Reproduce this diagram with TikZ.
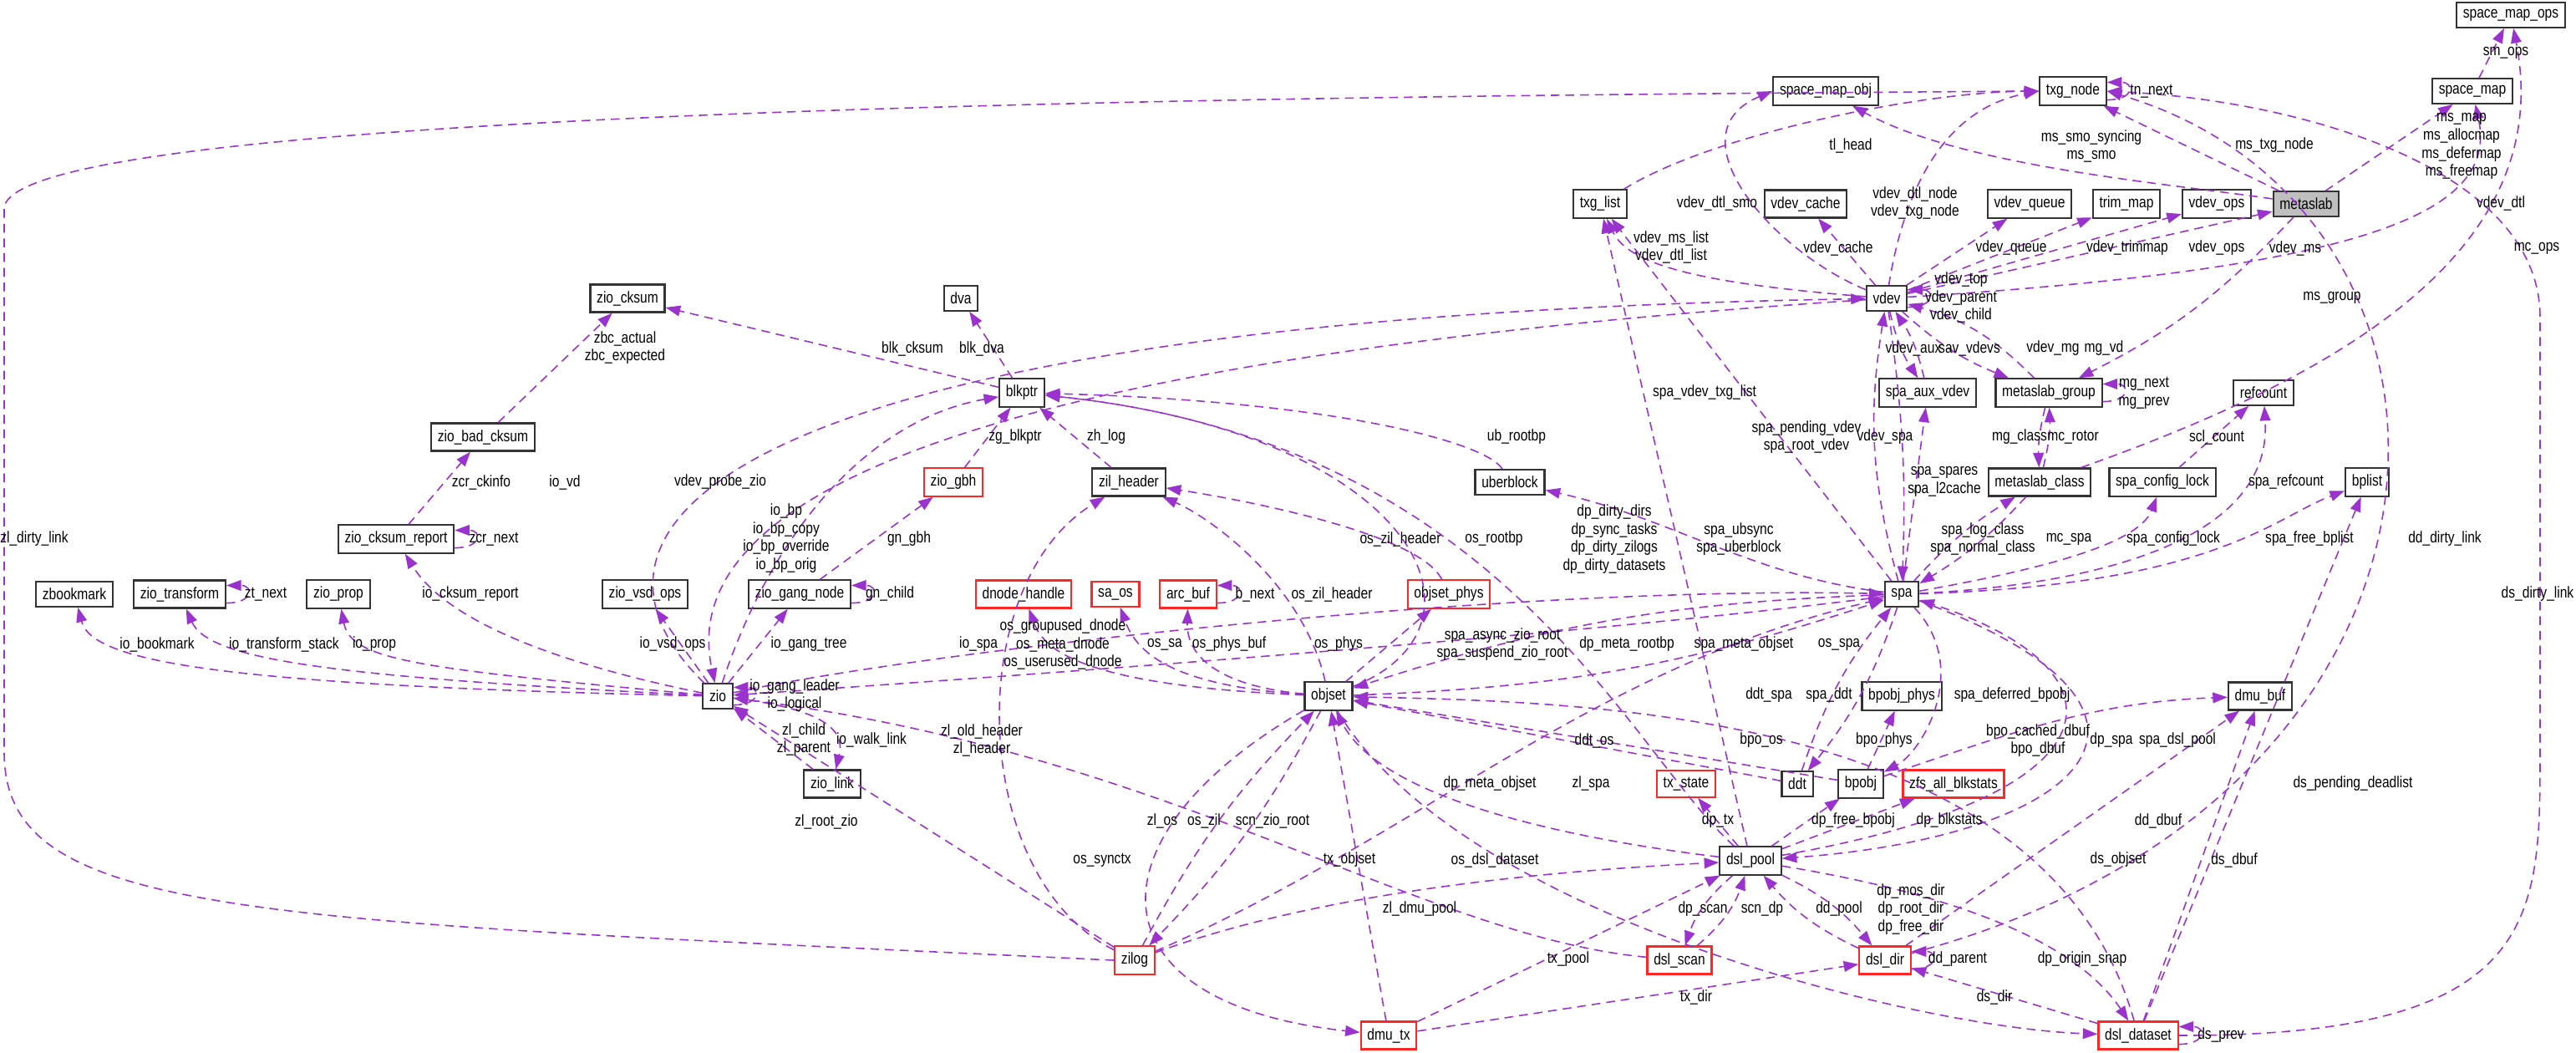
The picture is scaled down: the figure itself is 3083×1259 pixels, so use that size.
\documentclass[tikz,border=0pt]{standalone}
\usepackage{fontspec}
\setmainfont{Liberation Sans}[FakeStretch=0.82]
\usetikzlibrary{arrows.meta}
\definecolor{refcol}{HTML}{9A32CD}
\tikzset{
	cls/.style={draw=black!80, line width=0.6pt, fill=white, inner sep=2.2pt, minimum height=0.25cm, font=\fontsize{5.4}{6}\selectfont},
	redcls/.style={cls, draw=red!85},
	focus/.style={cls, fill=black!25},
	ref/.style={draw=refcol, dash pattern=on 3pt off 2pt, line width=0.45pt, -{Triangle[length=5pt,width=3.6pt,fill=refcol]}},
	lbl/.style={font=\fontsize{5.4}{6.2}\selectfont, align=center, inner sep=0pt},
}
\begin{document}
\begin{tikzpicture}[x=0.01cm, y=-0.01cm]
		\useasboundingbox (0,0) rectangle (3083,1259);

		\node[cls] (smops) at (3005, 18){space\_map\_ops};
		\node[cls] (smobj) at (2185, 109){space\_map\_obj};
		\node[cls] (txgnode) at (2481, 109){txg\_node};
		\node[cls] (sm) at (2959, 109){space\_map};
		\node[cls] (txglist) at (1915, 244){txg\_list};
		\node[cls] (vcache) at (2161, 244){vdev\_cache};
		\node[cls] (vqueue) at (2429, 244){vdev\_queue};
		\node[cls] (trim) at (2545, 244){trim\_map};
		\node[cls] (vops) at (2653, 244){vdev\_ops};
		\node[focus] (ms) at (2760, 244){metaslab};
		\node[cls] (vdev) at (2258, 357){vdev};
		\node[cls] (dva) at (1150, 357){dva};
		\node[cls] (cksum) at (751, 357){zio\_cksum};
		\node[cls] (blkptr) at (1223, 470){blkptr};
		\node[cls] (aux) at (2307, 470){spa\_aux\_vdev};
		\node[cls] (mg) at (2452, 470){metaslab\_group};
		\node[cls] (refc) at (2709, 470){refcount};
		\node[cls] (badck) at (578, 523){zio\_bad\_cksum};
		\node[redcls] (gbh) at (1141, 577){zio\_gbh};
		\node[cls] (zilh) at (1351, 577){zil\_header};
		\node[cls] (ub) at (1807, 577){uberblock};
		\node[cls] (mc) at (2441, 577){metaslab\_class};
		\node[cls] (scl) at (2588, 577){spa\_config\_lock};
		\node[cls] (bplist) at (2833, 577){bplist};
		\node[cls] (ckrep) at (474, 645){zio\_cksum\_report};
		\node[cls] (zb) at (89, 711){zbookmark};
		\node[cls] (ztr) at (215, 711){zio\_transform};
		\node[cls] (zprop) at (405, 711){zio\_prop};
		\node[cls] (vsd) at (772, 711){zio\_vsd\_ops};
		\node[cls] (gang) at (957, 711){zio\_gang\_node};
		\node[redcls] (dnh) at (1225, 711){dnode\_handle};
		\node[redcls] (saos) at (1335, 711){sa\_os};
		\node[redcls] (arc) at (1422, 711){arc\_buf};
		\node[redcls] (osphys) at (1734, 711){objset\_phys};
		\node[cls] (spa) at (2276, 711){spa};
		\node[cls] (zio) at (859, 833){zio};
		\node[cls] (objset) at (1590, 833){objset};
		\node[cls] (bpphys) at (2276, 833){bpobj\_phys};
		\node[cls] (dbuf) at (2705, 833){dmu\_buf};
		\node[cls] (zlink) at (996, 938){zio\_link};
		\node[redcls] (txst) at (2018, 938){tx\_state};
		\node[cls] (ddt) at (2151, 938){ddt};
		\node[cls] (bpobj) at (2227, 938){bpobj};
		\node[redcls] (blkst) at (2338, 938){zfs\_all\_blkstats};
		\node[cls] (dp) at (2095, 1030){dsl\_pool};
		\node[redcls] (zilog) at (1358, 1149){zilog};
		\node[redcls] (scan) at (2010, 1149){dsl\_scan};
		\node[redcls] (dd) at (2256, 1149){dsl\_dir};
		\node[redcls] (tx) at (1662, 1239){dmu\_tx};
		\node[redcls] (ds) at (2559, 1239){dsl\_dataset};

		\draw[ref] (sm) -- (smops);
		\draw[ref] (ms) -- (sm);
		\draw[ref] (mc) .. controls (2800,450) and (3060,300) .. (smops);
		\draw[ref] (vdev) .. controls (2850,320) and (2990,250) .. (sm);
		\draw[ref] (ms) .. controls (2600,220) and (2350,200) .. (smobj);
		\draw[ref] (vdev) .. controls (2120,300) and (2000,160) .. (smobj.west);
		\draw[ref] (ms) -- (txgnode);
		\draw[ref] ([yshift=-3pt]txgnode.east) to[out=0,in=0,looseness=4] ([yshift=3pt]txgnode.east);
		\draw[ref] (txglist) .. controls (2050,160) and (2300,110) .. (txgnode.west);
		\draw[ref] (vdev) .. controls (2280,220) and (2330,130) .. (txgnode.west);
		\draw[ref] (dd) .. controls (3000,950) and (3000,250) .. (txgnode.east);
		\draw[ref] (ds.east) .. controls (3040,1240) and (3040,1100) .. (3040,900) -- (3040,380) .. controls (3040,200) and (2750,120) .. (txgnode.east);
		\draw[ref] (zilog.west) .. controls (300,1100) and (5,1100) .. (5,900) -- (5,250) .. controls (5,130) and (1500,115) .. (txgnode.west);
		\draw[ref] (vdev) .. controls (2050,340) and (1950,320) .. (txglist);
		\draw[ref] (spa) -- (txglist);
		\draw[ref] (dp) -- (txglist);
		\draw[ref] (vdev) -- (vcache);
		\draw[ref] (vdev) -- (vqueue);
		\draw[ref] (vdev) -- (trim);
		\draw[ref] (vdev) -- (vops);
		\draw[ref] (vdev) -- (ms);
		\draw[ref] ([yshift=-3pt]vdev.east) to[out=0,in=0,looseness=4] ([yshift=3pt]vdev.east);
		\draw[ref] (mg) to[bend right=15] (vdev);
		\draw[ref] (vdev) to[bend right=10] (mg);
		\draw[ref] (ms) to[bend left=10] (mg);
		\draw[ref] ([yshift=-3pt]mg.east) to[out=0,in=0,looseness=4] ([yshift=3pt]mg.east);
		\draw[ref] (mc) to[bend right=8] (mg);
		\draw[ref] (mg) to[bend right=8] (mc);
		\draw[ref] (aux) to[bend right=10] (vdev);
		\draw[ref] (vdev) to[bend right=10] (aux);
		\draw[ref] (spa) to[bend left=12] (vdev);
		\draw[ref] (vdev) to[bend left=5] (spa);
		\draw[ref] (spa) -- (aux);
		\draw[ref] (spa) to[bend left=8] (mc);
		\draw[ref] (mc) to[bend left=8] (spa);
		\draw[ref] (scl) -- (refc);
		\draw[ref] (spa) .. controls (2500,700) and (2720,650) .. (refc);
		\draw[ref] (spa) .. controls (2450,680) and (2560,650) .. (scl);
		\draw[ref] (spa) .. controls (2650,700) and (2720,620) .. (bplist);
		\draw[ref] (ds) -- (bplist);
		\draw[ref] (spa) .. controls (2100,690) and (2000,620) .. (ub);
		\draw[ref] (ub) .. controls (1780,530) and (1600,480) .. (blkptr);
		\draw[ref] (objset) .. controls (1800,750) and (1700,520) .. (blkptr);
		\draw[ref] (dp) .. controls (1950,900) and (1800,530) .. (blkptr);
		\draw[ref] (zio) .. controls (930,620) and (1050,500) .. (blkptr);
		\draw[ref] (gbh) -- (blkptr);
		\draw[ref] (zilh) -- (blkptr);
		\draw[ref] (blkptr) -- (dva);
		\draw[ref] (blkptr) -- (cksum);
		\draw[ref] (badck) -- (cksum);
		\draw[ref] (ckrep) -- (badck);
		\draw[ref] ([yshift=-3pt]ckrep.east) to[out=0,in=0,looseness=4] ([yshift=3pt]ckrep.east);
		\draw[ref] (zio) .. controls (600,780) and (520,720) .. (ckrep);
		\draw[ref] (zio) .. controls (640,620) and (900,380) .. (vdev);
		\draw[ref] (vdev) .. controls (1300,420) and (800,560) .. (zio);
		\draw[ref] (zio) .. controls (250,820) and (110,790) .. (zb);
		\draw[ref] (zio) .. controls (400,810) and (250,790) .. (ztr);
		\draw[ref] ([yshift=-3pt]ztr.east) to[out=0,in=0,looseness=4] ([yshift=3pt]ztr.east);
		\draw[ref] (zio) .. controls (500,800) and (420,790) .. (zprop);
		\draw[ref] (zio) -- (vsd);
		\draw[ref] (zio) -- (gang);
		\draw[ref] ([yshift=-3pt]gang.east) to[out=0,in=0,looseness=4] ([yshift=3pt]gang.east);
		\draw[ref] (gang) -- (gbh);
		\draw[ref] ([yshift=-3pt]zio.east) to[out=0,in=0,looseness=4] ([yshift=3pt]zio.east);
		\draw[ref] (zlink) -- (zio);
		\draw[ref] (zio) .. controls (1000,850) and (1010,880) .. (zlink);
		\draw[ref] (zilog) -- (zio);
		\draw[ref] (scan) .. controls (1700,1120) and (1400,900) .. (zio);
		\draw[ref] (zio) .. controls (1100,780) and (1800,700) .. (spa);
		\draw[ref] (spa) .. controls (1900,760) and (1200,810) .. (zio);
		\draw[ref] (zilog) .. controls (1160,1050) and (1150,700) .. (zilh);
		\draw[ref] (objset) .. controls (1560,700) and (1450,620) .. (zilh);
		\draw[ref] (osphys) .. controls (1700,640) and (1500,600) .. (zilh);
		\draw[ref] (objset) -- (osphys);
		\draw[ref] (objset) .. controls (1300,820) and (1250,780) .. (dnh);
		\draw[ref] (objset) .. controls (1400,820) and (1360,780) .. (saos);
		\draw[ref] (objset) .. controls (1450,820) and (1420,780) .. (arc);
		\draw[ref] ([yshift=-3pt]arc.east) to[out=0,in=0,looseness=4] ([yshift=3pt]arc.east);
		\draw[ref] (spa) to[bend right=8] (objset);
		\draw[ref] (objset) to[bend right=8] (spa);
		\draw[ref] (ddt) -- (objset);
		\draw[ref] (bpobj) -- (objset);
		\draw[ref] (dp) .. controls (1850,1000) and (1650,950) .. (objset);
		\draw[ref] (zilog) to[bend left=8] (objset);
		\draw[ref] (objset) to[bend left=8] (zilog);
		\draw[ref] (tx) -- (objset);
		\draw[ref] (ds) .. controls (2450,850) and (1900,840) .. (objset);
		\draw[ref] (objset) .. controls (1750,1100) and (2300,1230) .. (ds);
		\draw[ref] (objset) .. controls (1300,1000) and (1300,1200) .. (tx);
		\draw[ref] (ddt) to[bend left=10] (spa);
		\draw[ref] (spa) to[bend left=10] (ddt);
		\draw[ref] (bpobj) -- (bpphys);
		\draw[ref] (spa) .. controls (2360,800) and (2300,900) .. (bpobj);
		\draw[ref] (bpobj) .. controls (2400,880) and (2500,840) .. (dbuf);
		\draw[ref] (dd) -- (dbuf);
		\draw[ref] (ds) -- (dbuf);
		\draw[ref] (dp) .. controls (2550,950) and (2550,800) .. (spa);
		\draw[ref] (spa) .. controls (2650,850) and (2500,1000) .. (dp);
		\draw[ref] (zilog) .. controls (1700,1000) and (1900,800) .. (spa);
		\draw[ref] (dp) -- (txst);
		\draw[ref] (dp) -- (bpobj);
		\draw[ref] (dp) -- (blkst);
		\draw[ref] (zilog) .. controls (1600,1060) and (1900,1040) .. (dp);
		\draw[ref] (dp) to[bend right=15] (scan);
		\draw[ref] (scan) to[bend right=15] (dp);
		\draw[ref] (dd) to[bend left=12] (dp);
		\draw[ref] (dp) to[bend left=12] (dd);
		\draw[ref] (dp) .. controls (2400,1080) and (2500,1150) .. (ds);
		\draw[ref] (tx) -- (dp);
		\draw[ref] (tx) -- (dd);
		\draw[ref] ([yshift=-3pt]dd.east) to[out=0,in=0,looseness=4] ([yshift=3pt]dd.east);
		\draw[ref] (ds) -- (dd);
		\draw[ref] ([yshift=-3pt]ds.east) to[out=0,in=0,looseness=4] ([yshift=3pt]ds.east);

		\node[lbl] (l1) at (2999, 63){sm\_ops};
		\node[lbl] (l2) at (2575, 109){tn\_next};
		\node[lbl] (l3) at (2215, 174){tl\_head};
		\node[lbl] (l4) at (2503, 175){ms\_smo\_syncing\\ms\_smo};
		\node[lbl] (l5) at (2722, 174){ms\_txg\_node};
		\node[lbl] (l6) at (2946, 175){ms\_map\\ms\_allocmap\\ms\_defermap\\ms\_freemap};
		\node[lbl] (l7) at (2055, 243){vdev\_dtl\_smo};
		\node[lbl] (l8) at (2292, 243){vdev\_dtl\_node\\vdev\_txg\_node};
		\node[lbl] (l9) at (2993, 243){vdev\_dtl};
		\node[lbl] (l10) at (2200, 297){vdev\_cache};
		\node[lbl] (l11) at (2407, 297){vdev\_queue};
		\node[lbl] (l12) at (2546, 297){vdev\_trimmap};
		\node[lbl] (l13) at (2653, 297){vdev\_ops};
		\node[lbl] (l14) at (2747, 297){vdev\_ms};
		\node[lbl] (l15) at (3036, 297){mc\_ops};
		\node[lbl] (l16) at (2347, 356){vdev\_top\\vdev\_parent\\vdev\_child};
		\node[lbl] (l17) at (2791, 356){ms\_group};
		\node[lbl] (l18) at (2290, 417){vdev\_aux};
		\node[lbl] (l19) at (2357, 417){sav\_vdevs};
		\node[lbl] (l20) at (2457, 417){vdev\_mg};
		\node[lbl] (l21) at (2518, 417){mg\_vd};
		\node[lbl] (l22) at (2566, 470){mg\_next\\mg\_prev};
		\node[lbl] (l23) at (2162, 523){spa\_pending\_vdev\\spa\_root\_vdev};
		\node[lbl] (l24) at (2256, 523){vdev\_spa};
		\node[lbl] (l25) at (2417, 523){mg\_class};
		\node[lbl] (l26) at (2481, 523){mc\_rotor};
		\node[lbl] (l27) at (2653, 523){scl\_count};
		\node[lbl] (l28) at (2327, 576){spa\_spares\\spa\_l2cache};
		\node[lbl] (l29) at (2736, 577){spa\_refcount};
		\node[lbl] (l30) at (2000, 296){vdev\_ms\_list\\vdev\_dtl\_list};
		\node[lbl] (l31) at (2040, 470){spa\_vdev\_txg\_list};
		\node[lbl] (l32) at (1092, 417){blk\_cksum};
		\node[lbl] (l33) at (1175, 417){blk\_dva};
		\node[lbl] (l34) at (1215, 523){zg\_blkptr};
		\node[lbl] (l35) at (1324, 523){zh\_log};
		\node[lbl] (l36) at (1815, 523){ub\_rootbp};
		\node[lbl] (l37) at (748, 416){zbc\_actual\\zbc\_expected};
		\node[lbl] (l38) at (576, 577){zcr\_ckinfo};
		\node[lbl] (l39) at (676, 577){io\_vd};
		\node[lbl] (l40) at (862, 577){vdev\_probe\_zio};
		\node[lbl] (l41) at (941, 644){io\_bp\\io\_bp\_copy\\io\_bp\_override\\io\_bp\_orig};
		\node[lbl] (l42) at (41, 645){zl\_dirty\_link};
		\node[lbl] (l43) at (591, 645){zcr\_next};
		\node[lbl] (l44) at (1088, 645){gn\_gbh};
		\node[lbl] (l45) at (318, 711){zt\_next};
		\node[lbl] (l46) at (1065, 711){gn\_child};
		\node[lbl] (l47) at (188, 771){io\_bookmark};
		\node[lbl] (l48) at (340, 771){io\_transform\_stack};
		\node[lbl] (l49) at (448, 771){io\_prop};
		\node[lbl] (l50) at (563, 711){io\_cksum\_report};
		\node[lbl] (l51) at (805, 771){io\_vsd\_ops};
		\node[lbl] (l52) at (968, 771){io\_gang\_tree};
		\node[lbl] (l53) at (951, 832){io\_gang\_leader\\io\_logical};
		\node[lbl] (l54) at (962, 885){zl\_child\\zl\_parent};
		\node[lbl] (l55) at (1043, 885){io\_walk\_link};
		\node[lbl] (l56) at (989, 983){zl\_root\_zio};
		\node[lbl] (l57) at (1676, 645){os\_zil\_header};
		\node[lbl] (l58) at (1788, 645){os\_rootbp};
		\node[lbl] (l59) at (1932, 645){dp\_dirty\_dirs\\dp\_sync\_tasks\\dp\_dirty\_zilogs\\dp\_dirty\_datasets};
		\node[lbl] (l60) at (2081, 645){spa\_ubsync\\spa\_uberblock};
		\node[lbl] (l61) at (1594, 711){os\_zil\_header};
		\node[lbl] (l62) at (1502, 711){b\_next};
		\node[lbl] (l63) at (1171, 771){io\_spa};
		\node[lbl] (l64) at (1272, 771){os\_groupused\_dnode\\os\_meta\_dnode\\os\_userused\_dnode};
		\node[lbl] (l65) at (1394, 771){os\_sa};
		\node[lbl] (l66) at (1471, 771){os\_phys\_buf};
		\node[lbl] (l67) at (1602, 771){os\_phys};
		\node[lbl] (l68) at (1798, 771){spa\_async\_zio\_root\\spa\_suspend\_zio\_root};
		\node[lbl] (l69) at (1947, 771){dp\_meta\_rootbp};
		\node[lbl] (l70) at (2087, 771){spa\_meta\_objset};
		\node[lbl] (l71) at (2201, 771){os\_spa};
		\node[lbl] (l72) at (1908, 886){ddt\_os};
		\node[lbl] (l73) at (1175, 886){zl\_old\_header\\zl\_header};
		\node[lbl] (l74) at (1783, 938){dp\_meta\_objset};
		\node[lbl] (l75) at (1904, 938){zl\_spa};
		\node[lbl] (l76) at (1391, 982){zl\_os};
		\node[lbl] (l77) at (1441, 982){os\_zil};
		\node[lbl] (l78) at (1523, 982){scn\_zio\_root};
		\node[lbl] (l79) at (2056, 982){dp\_tx};
		\node[lbl] (l80) at (1319, 1029){os\_synctx};
		\node[lbl] (l81) at (1615, 1029){tx\_objset};
		\node[lbl] (l82) at (1789, 1029){os\_dsl\_dataset};
		\node[lbl] (l83) at (1699, 1088){zl\_dmu\_pool};
		\node[lbl] (l84) at (2038, 1088){dp\_scan};
		\node[lbl] (l85) at (1877, 1148){tx\_pool};
		\node[lbl] (l86) at (2030, 1193){tx\_dir};
		\node[lbl] (l87) at (2373, 645){spa\_log\_class\\spa\_normal\_class};
		\node[lbl] (l88) at (2476, 645){mc\_spa};
		\node[lbl] (l89) at (2601, 645){spa\_config\_lock};
		\node[lbl] (l90) at (2764, 645){spa\_free\_bplist};
		\node[lbl] (l91) at (2926, 645){dd\_dirty\_link};
		\node[lbl] (l92) at (3037, 711){ds\_dirty\_link};
		\node[lbl] (l93) at (2117, 832){ddt\_spa};
		\node[lbl] (l94) at (2189, 832){spa\_ddt};
		\node[lbl] (l95) at (2408, 832){spa\_deferred\_bpobj};
		\node[lbl] (l96) at (2108, 886){bpo\_os};
		\node[lbl] (l97) at (2255, 886){bpo\_phys};
		\node[lbl] (l98) at (2439, 886){bpo\_cached\_dbuf\\bpo\_dbuf};
		\node[lbl] (l99) at (2527, 886){dp\_spa};
		\node[lbl] (l100) at (2606, 886){spa\_dsl\_pool};
		\node[lbl] (l101) at (2816, 938){ds\_pending\_deadlist};
		\node[lbl] (l102) at (2218, 982){dp\_free\_bpobj};
		\node[lbl] (l103) at (2333, 982){dp\_blkstats};
		\node[lbl] (l104) at (2583, 982){dd\_dbuf};
		\node[lbl] (l105) at (2535, 1029){ds\_objset};
		\node[lbl] (l106) at (2674, 1029){ds\_dbuf};
		\node[lbl] (l107) at (2109, 1088){scn\_dp};
		\node[lbl] (l108) at (2201, 1088){dd\_pool};
		\node[lbl] (l109) at (2287, 1088){dp\_mos\_dir\\dp\_root\_dir\\dp\_free\_dir};
		\node[lbl] (l110) at (2343, 1148){dd\_parent};
		\node[lbl] (l111) at (2492, 1148){dp\_origin\_snap};
		\node[lbl] (l112) at (2387, 1193){ds\_dir};
		\node[lbl] (l113) at (2658, 1239){ds\_prev};
	\end{tikzpicture}
\end{document}
